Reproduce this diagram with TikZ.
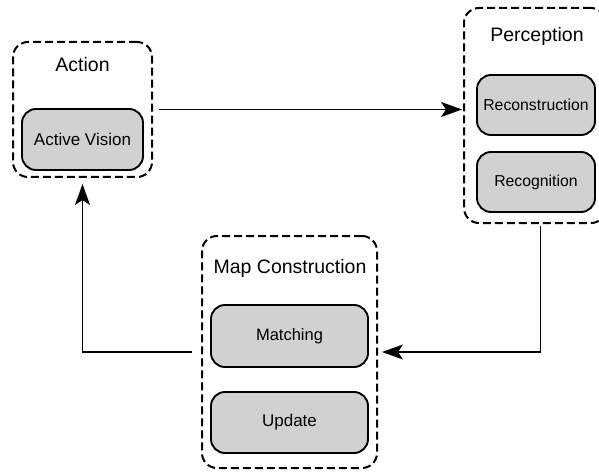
\documentclass[tikz,border=0pt]{standalone}
\usepackage{fontspec}
\setmainfont{Liberation Sans}
\usetikzlibrary{arrows.meta,calc}
\begin{document}
\begin{tikzpicture}[x=1pt,y=-1pt,
  group/.style={draw=black, line width=2pt, dash pattern=on 8pt off 4pt, rounded corners=15pt, minimum width=#1},
  inner/.style={draw=black, fill=black!18, line width=1.9pt, rounded corners=14pt, inner sep=0pt},
  title/.style={font=\fontsize{19.5}{22}\selectfont},
  arr/.style={line width=1.8pt, -{Stealth[length=21pt,width=15pt,inset=5pt]}}
]
\useasboundingbox (0,0) rectangle (599,473);
\clip (0,0) rectangle (599,473);
% groups
\node[group=139pt, minimum height=135pt] (action) at (82.5,109.5) {};
\node[group=142pt, minimum height=215pt] (perc) at (535,115.5) {};
\node[group=175pt, minimum height=232pt] (map) at (289.5,352) {};
% titles
\node[title] (tact) at (82.5,65) {Action};
\node[title] (tperc) at (537,36) {Perception};
\node[title] (tmap) at (290,268) {Map Construction};
% inner boxes
\node[inner, minimum width=121pt, minimum height=61pt, font=\fontsize{17}{20}\selectfont] (av) at (82.5,139.5) {Active Vision};
\node[inner, minimum width=118pt, minimum height=60pt, font=\fontsize{15.8}{18}\selectfont] (recon) at (536,105) {Reconstruction};
\node[inner, minimum width=118pt, minimum height=60pt, font=\fontsize{15.8}{18}\selectfont] (recog) at (536,182) {Recognition};
\node[inner, minimum width=157pt, minimum height=62pt, font=\fontsize{16.5}{19}\selectfont] (match) at (289.5,336) {Matching};
\node[inner, minimum width=157pt, minimum height=61pt, font=\fontsize{17}{20}\selectfont] (upd) at (289.5,422.5) {Update};
% connectors
\coordinate (pout) at ($(perc.south)+(5.5,0)$);
\draw[arr, shorten <=6pt, shorten >=1pt] (action.east) -- (action.east -| perc.west);
\draw[arr, shorten <=2pt, shorten >=4pt] (pout) |- (map.east);
\draw[arr, shorten <=9pt, shorten >=6pt] (map.west) -| (action.south);
\end{tikzpicture}
\end{document}
